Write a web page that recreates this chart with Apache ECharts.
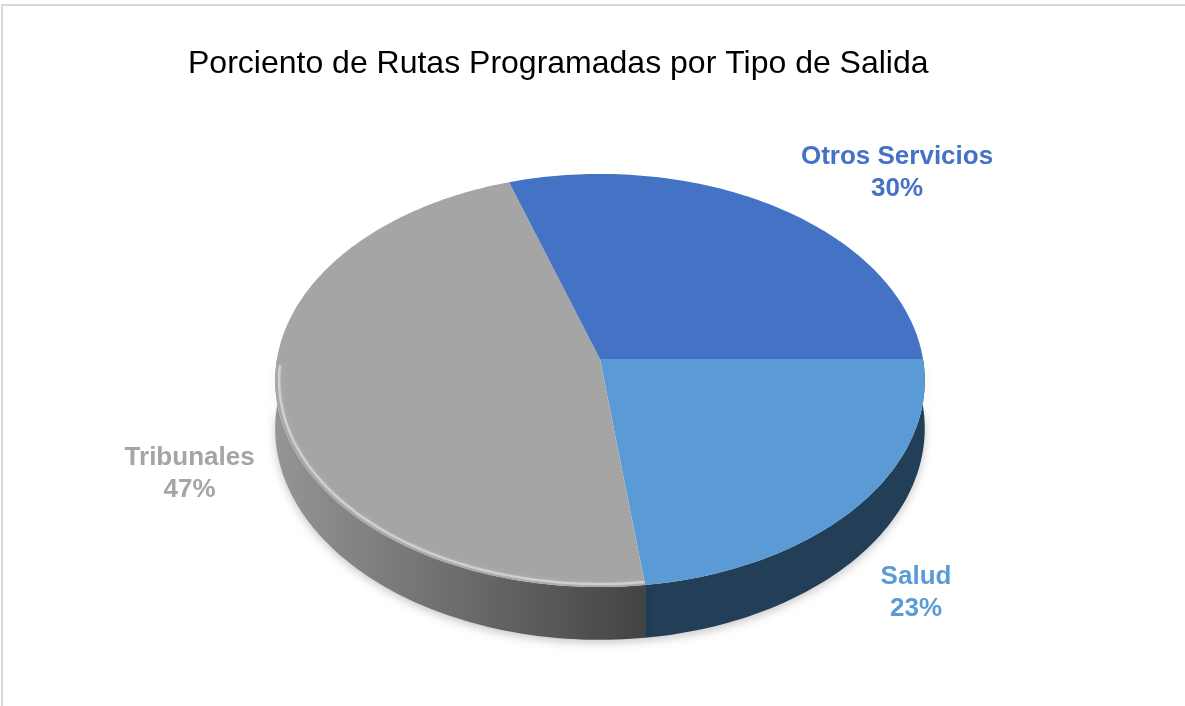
<!DOCTYPE html>
<html>
<head>
<meta charset="utf-8">
<title>Porciento de Rutas Programadas</title>
<script src="https://cdn.jsdelivr.net/npm/echarts@6/dist/echarts.min.js"></script>
<style>
  html, body { margin: 0; padding: 0; background: #fff; }
  #marco { position: absolute; left: 1px; top: 4px; right: 0; bottom: 0;
           border-top: 2px solid #d9d9d9; border-left: 2px solid #d9d9d9; }
  #main { position: absolute; left: 0; top: 0; width: 1185px; height: 706px; }
</style>
</head>
<body>
<div id="marco"></div>
<div id="main"></div>
<script type="text/javascript">
// datos (orden de Excel: primer sector a las 3 en punto, sentido horario)
var categorias = ['Salud', 'Tribunales', 'Otros Servicios'];
var valores = [23, 47, 30];

// estilos
var colores = ['#5B9BD5', '#A5A5A5', '#4472C4'];
var ladoClaro = ['#233E57', '#959595', '#2c4d86'];
var ladoOscuro = ['#233E57', '#434343', '#2c4d86'];
var brillo = [0, 0.42, 0];
// posicion de las etiquetas (fraccion del ancho / alto)
var posEtiquetas = [[0.773, 0.840], [0.160, 0.671], [0.757, 0.245]];

var total = valores.reduce(function (a, b) { return a + b; }, 0);

// pastel "3D" en perspectiva
function geo(api) {
    var W = api.getWidth(), H = api.getHeight();
    return { cx: W * 0.5063, cy: H * 0.5085, A: W * 0.2726, B: H * 0.2894, p: -0.104, D: H * 0.067 };
}
function proj(g, phi, r, t) {
    var u = r * Math.cos(phi), v = r * Math.sin(phi);
    var w = 1 + g.p * v;
    return [g.cx + g.A * u / w, g.cy + (g.B * v + g.D * t) / w];
}
function angulos(i) {
    var ini = 0;
    for (var k = 0; k < i; k++) ini += valores[k];
    return [ini / total * Math.PI * 2, (ini + valores[i]) / total * Math.PI * 2];
}
function arco(g, a, b, r, t) {
    var pts = [], n = Math.max(2, Math.ceil((b - a) / 0.02));
    for (var k = 0; k <= n; k++) pts.push(proj(g, a + (b - a) * k / n, r, t));
    return pts;
}

var myChart = echarts.init(document.getElementById('main'));

var option = {
    backgroundColor: 'transparent',
    animation: false,
    title: {
        text: 'Porciento de Rutas Programadas por Tipo de Salida',
        left: 188,
        top: 48,
        padding: 0,
        textStyle: { fontFamily: 'Liberation Sans', fontSize: 32, fontWeight: 'normal', color: '#000' }
    },
    series: [
        {
            // costados
            type: 'custom',
            coordinateSystem: 'none',
            z: 1,
            data: valores.map(function (v, i) { return { name: categorias[i], value: v }; }),
            renderItem: function (params, api) {
                var i = params.dataIndex, g = geo(api);
                var ang = angulos(i);
                var a = Math.max(ang[0], 0), b = Math.min(ang[1], Math.PI);
                if (b <= a) return { type: 'group', children: [] };
                var sup = arco(g, a, b, 1, 0);
                var inf = arco(g, a, b, 1, 1).reverse();
                var xs = sup.map(function (q) { return q[0]; });
                var x0 = Math.min.apply(null, xs), x1 = Math.max.apply(null, xs);
                return {
                    type: 'polygon',
                    shape: { points: sup.concat(inf) },
                    style: {
                        fill: new echarts.graphic.LinearGradient(x0, 0, x1, 0, [
                            { offset: 0, color: ladoClaro[i] },
                            { offset: 1, color: ladoOscuro[i] }
                        ], true),
                        shadowBlur: 10,
                        shadowColor: 'rgba(0,0,0,0.22)',
                        shadowOffsetY: 3
                    }
                };
            }
        },
        {
            // caras superiores y etiquetas
            type: 'custom',
            coordinateSystem: 'none',
            z: 2,
            data: valores.map(function (v, i) { return { name: categorias[i], value: v }; }),
            renderItem: function (params, api) {
                var i = params.dataIndex, g = geo(api);
                var ang = angulos(i);
                var pts = [proj(g, 0, 0, 0)].concat(arco(g, ang[0], ang[1], 1, 0));
                var hijos = [{
                    type: 'polygon',
                    shape: { points: pts },
                    style: { fill: colores[i] }
                }];
                var a = Math.max(ang[0], 0.15), b = Math.min(ang[1], Math.PI - 0.03);
                if (b > a && brillo[i] > 0) {
                    hijos.push({
                        type: 'polyline',
                        shape: { points: arco(g, a, b, 0.988, 0) },
                        style: {
                            stroke: 'rgba(255,255,255,' + brillo[i] + ')', lineWidth: 2.5, fill: null,
                            shadowBlur: 4, shadowColor: 'rgba(255,255,255,0.5)'
                        },
                        z2: 5
                    });
                }
                var pct = Math.round(api.value(0) / total * 100);
                hijos.push({
                    type: 'text',
                    x: posEtiquetas[i][0] * api.getWidth(),
                    y: posEtiquetas[i][1] * api.getHeight(),
                    style: {
                        text: categorias[i] + '\n' + pct + '%',
                        fill: colores[i],
                        font: 'bold 26px "Liberation Sans"',
                        align: 'center',
                        verticalAlign: 'middle',
                        lineHeight: 32
                    },
                    z2: 10
                });
                return { type: 'group', children: hijos };
            }
        }
    ]
};
myChart.setOption(option);
</script>
</body>
</html>
